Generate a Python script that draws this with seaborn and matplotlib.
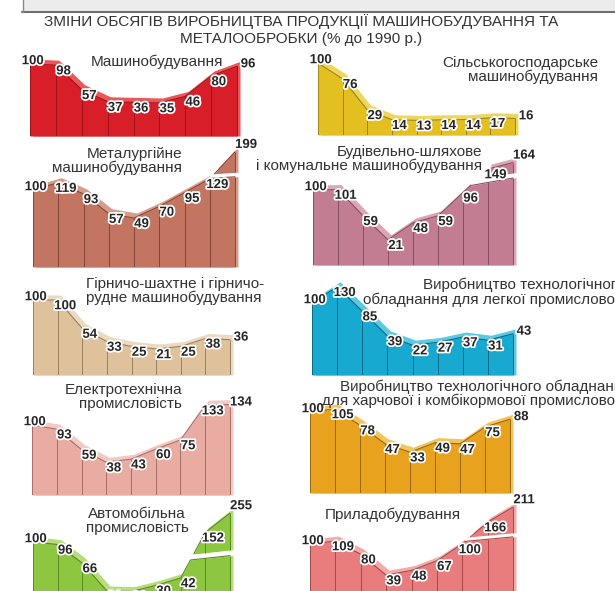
import numpy as np
import matplotlib
matplotlib.use('Agg')
import matplotlib.pyplot as plt
import matplotlib.patheffects as pe
import seaborn as sns

sns.set_theme(style='white')
plt.rcParams['font.family'] = ['Liberation Sans', 'DejaVu Sans']

# дані (% до 1990 р.)
mashyno = [100, 98, 57, 37, 36, 35, 46, 80, 96]
silgosp = [100, 76, 29, 14, 13, 14, 14, 17, 16]
metalurg = [100, 119, 93, 57, 49, 70, 95, 129, 199]
budiv = [100, 101, 59, 21, 48, 59, 96, 149, 164]
girnych = [100, 100, 54, 33, 25, 21, 25, 38, 36]
legka = [100, 130, 85, 39, 22, 27, 37, 31, 43]
elektro = [100, 93, 59, 38, 43, 60, 75, 133, 134]
harch = [100, 105, 78, 47, 33, 49, 47, 75, 88]
avto = [100, 96, 66, 21, 20, 30, 42, 152, 255]
prylad = [100, 109, 80, 39, 48, 67, 100, 166, 211]

W, H = 615, 591
fig = plt.figure(figsize=(W / 100, H / 100), dpi=100)
fig.patch.set_facecolor('white')

def fx(px):
    return px / W

def fy(py):
    return 1 - py / H

LABEL_FONT = ['Liberation Sans Narrow', 'Liberation Sans', 'DejaVu Sans']
halo = [pe.withStroke(linewidth=2.5, foreground='white')]


def draw_panel(vals, L, R, base, y100, ppu, fill, rib_c, edge, brk=None):
    xs = np.arange(len(vals))
    v = np.array(vals, dtype=float)
    disp = v.copy()
    if brk:
        disp = np.where(v > brk['T'], brk['T'] + (v - brk['T']) * brk['k'], v)
    ux = (R - L) / 8
    ext = 0.6
    top_px = y100 - 160
    y0 = 100 - (base - y100) / ppu
    y1 = 100 + (y100 - top_px) / ppu
    ax = fig.add_axes([fx(L), fy(base), (R - L + ext * ux) / W, (base - top_px) / H])
    ax.set_xlim(0, 8 + ext)
    ax.set_ylim(y0, y1)
    ax.set_axis_off()

    xf = np.linspace(0, 8, 801)
    top = np.interp(xf, xs, disp)
    lower = top.copy()
    if brk:
        in_gap = xf >= brk['xg']
        g_lo = np.interp(xf, [brk['xg'], 8], [brk['g0'], brk['g1']])
        g_hi = g_lo + brk['gw']
        lower = np.where(in_gap, np.minimum(top, g_lo), top)

    dx = 3 / ux
    rib = 5 / ppu
    ax.fill_between(xf + dx, y0, lower + rib, color=rib_c, lw=0, zorder=1)
    ax.fill_between(xf, y0, lower, color=fill, lw=0, zorder=2)
    sns.lineplot(x=xf, y=lower, ax=ax, color=edge, lw=0.8, zorder=4,
                 estimator=None, sort=False)
    ax.vlines(xs, y0, np.interp(xs, xf, lower), color=edge, lw=0.7, zorder=4)

    if brk:
        up = in_gap & (xf >= brk['px0']) & (top > g_hi)
        ax.fill_between(xf + dx, g_hi, top + rib, where=up, interpolate=True,
                        color=rib_c, lw=0, zorder=1)
        ax.fill_between(xf, g_hi, top, where=up, interpolate=True,
                        color=fill, lw=0, zorder=2)
        slope = (brk['g1'] - brk['g0']) / (8 - brk['xg'])
        xg = np.linspace(brk['xg'], 8 + 2 * dx, 100)
        lo = brk['g0'] + slope * (xg - brk['xg'])
        ax.fill_between(xg, lo, lo + brk['gw'], color='white', lw=0, zorder=3)
        sns.lineplot(x=xf[up], y=top[up], ax=ax, color=edge, lw=0.8, zorder=4,
                     estimator=None, sort=False)
        for i in xs[xs >= brk['px0']]:
            t = np.interp(i, xs, disp)
            b = brk['g0'] + slope * (i - brk['xg']) + brk['gw']
            if t > b:
                ax.vlines(i, b, t, color=edge, lw=0.7, zorder=4)

    n = len(vals)
    for i, (val, d) in enumerate(zip(vals, disp)):
        if i == 0:
            off = (2, 2)
        elif i == n - 1:
            off = (8, 5 if brk else 1.5)
        else:
            off = (5.5, -4.5)
        ax.annotate(str(val), (i, d), xytext=off, textcoords='offset points',
                    ha='center', va='center', fontsize=9.5, fontweight='bold',
                    family=LABEL_FONT, color='#262626', path_effects=halo,
                    zorder=6, annotation_clip=False)
    return ax


# верхня смуга (фрагмент попередньої карти)
fig.add_artist(plt.Rectangle((fx(23), fy(11)), 1, 11 / H, transform=fig.transFigure,
                             facecolor='#ececec', edgecolor='none'))
fig.add_artist(plt.Line2D([fx(22), 1], [fy(11.5), fy(11.5)], transform=fig.transFigure,
                          color='#6e6e6e', lw=1.5))
fig.add_artist(plt.Line2D([fx(23), fx(23)], [1, fy(11.5)], transform=fig.transFigure,
                          color='#8a8a8a', lw=1))

# заголовок
fig.text(fx(301), fy(22), 'ЗМІНИ ОБСЯГІВ ВИРОБНИЦТВА ПРОДУКЦІЇ МАШИНОБУДУВАННЯ ТА',
         ha='center', va='center', fontsize=11, color='#333333')
fig.text(fx(301), fy(39), 'МЕТАЛООБРОБКИ (% до 1990 р.)',
         ha='center', va='center', fontsize=11, color='#333333')

# панелі
draw_panel(mashyno, 30, 237, 136, 64, 0.60, '#d81e28', '#e8585a', '#9e1218')
draw_panel(silgosp, 318, 515, 135, 63, 0.66, '#e3bf1f', '#eed65e', '#9a8420')
draw_panel(metalurg, 33, 235, 267, 190, 0.55, '#c27662', '#d69c8a', '#864636',
           brk=dict(T=100, k=0.7, xg=7.0, g0=121, g1=124, gw=8, px0=7.0))
draw_panel(budiv, 313, 513, 265, 190, 0.63, '#c27d92', '#dba6b6', '#875062',
           brk=dict(T=100, k=0.68, xg=6.3, g0=107, g1=119, gw=8, px0=7.0))
draw_panel(girnych, 33, 230, 375, 300, 0.62, '#dfc29c', '#ecdac0', '#97805e')
draw_panel(legka, 312, 513, 375, 303, 0.54, '#17a9cf', '#5ec8e3', '#0a6886')
draw_panel(elektro, 32, 230, 495, 425, 0.60, '#e9aca2', '#f3cac2', '#a66e68')
draw_panel(harch, 310, 510, 493, 412, 0.60, '#e8a21e', '#f3c45e', '#966810')
draw_panel(avto, 33, 230, 620, 542, 0.62, '#8dc63f', '#b6dc7c', '#58881e',
           brk=dict(T=100, k=0.3, xg=6.4, g0=71, g1=78, gw=9, px0=6.4))
draw_panel(prylad, 310, 513, 600, 544, 0.51, '#e97d7d', '#f3aaaa', '#a64848',
           brk=dict(T=100, k=0.65, xg=6.1, g0=105, g1=114, gw=8, px0=6.1))

# назви панелей
tcol = '#333333'
fs = 11
fig.text(fx(157), fy(62), 'Машинобудування', ha='center', va='center', fontsize=fs, color=tcol)
fig.text(fx(598), fy(70), 'Сільськогосподарське\nмашинобудування', ha='right', va='center',
         multialignment='right', fontsize=fs, color=tcol, linespacing=1.0)
fig.text(fx(182), fy(161), 'Металургійне\nмашинобудування', ha='right', va='center',
         multialignment='right', fontsize=fs, color=tcol, linespacing=1.0)
fig.text(fx(482), fy(159), 'Будівельно-шляхове\nі комунальне машинобудування', ha='right',
         va='center', multialignment='right', fontsize=fs, color=tcol, linespacing=1.0)
fig.text(fx(86), fy(291), 'Гірничо-шахтне і гірничо-\nрудне машинобудування', ha='left',
         va='center', multialignment='left', fontsize=fs, color=tcol, linespacing=0.9)
fig.text(fx(423), fy(285), 'Виробництво технологічного', ha='left', va='center',
         fontsize=fs, color=tcol)
fig.text(fx(363), fy(300), 'обладнання для легкої промисловості', ha='left', va='center',
         fontsize=fs, color=tcol)
fig.text(fx(182), fy(397), 'Електротехнічна\nпромисловість', ha='right', va='center',
         multialignment='right', fontsize=fs, color=tcol, linespacing=1.0)
fig.text(fx(340), fy(387), 'Виробництво технологічного обладнання', ha='left', va='center',
         fontsize=fs, color=tcol)
fig.text(fx(322), fy(401), 'для харчової і комбікормової промисловості', ha='left',
         va='center', fontsize=fs, color=tcol)
fig.text(fx(137), fy(521), 'Автомобільна\nпромисловість', ha='center', va='center',
         multialignment='center', fontsize=fs, color=tcol, linespacing=1.0)
fig.text(fx(325), fy(515), 'Приладобудування', ha='left', va='center', fontsize=fs, color=tcol)

plt.savefig('out.png', dpi=100)
